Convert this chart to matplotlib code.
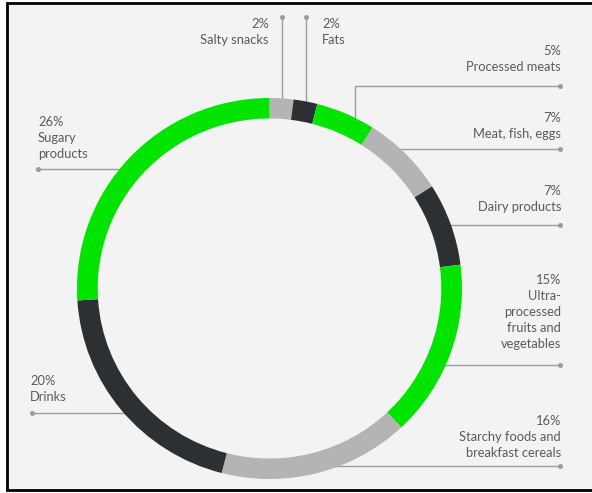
import numpy as np
import matplotlib
matplotlib.use("Agg")
import matplotlib.pyplot as plt
from matplotlib.patches import Rectangle

# data (clockwise from 12 o'clock)
categories = ["Salty snacks", "Fats", "Processed meats", "Meat, fish, eggs",
              "Dairy products", "Ultra-processed fruits and vegetables",
              "Starchy foods and breakfast cereals", "Drinks", "Sugary products"]
shares = [2, 2, 5, 7, 7, 15, 16, 20, 26]
label_lines = [["2%", "Salty snacks"], ["2%", "Fats"], ["5%", "Processed meats"],
               ["7%", "Meat, fish, eggs"], ["7%", "Dairy products"],
               ["15%", "Ultra-", "processed", "fruits and", "vegetables"],
               ["16%", "Starchy foods and", "breakfast cereals"],
               ["20%", "Drinks"], ["26%", "Sugary", "products"]]

GREEN, DARK, GREY = "#00e400", "#2d3033", "#b4b4b4"
colors = [GREY, DARK, GREEN, GREY, DARK, GREEN, GREY, DARK, GREEN]
TXT, LINE = "#5a5a5a", "#9c9c9c"

W, H = 592, 493
cx, cy = 269.5, 288.5
Rx, Ry = 192.5, 190.5
ring_w = 20.5

plt.rcParams['font.family'] = ['Lato', 'DejaVu Sans']
fig = plt.figure(figsize=(W / 100, H / 100), dpi=100)
fig.patch.set_facecolor("white")

# background axes in pixel coordinates for frame, leaders and text
bg = fig.add_axes([0, 0, 1, 1])
bg.set_xlim(0, W)
bg.set_ylim(H, 0)
bg.axis("off")
bg.add_patch(Rectangle((6.5, 2.5), 620, 487.5, facecolor="#f3f3f3",
                       edgecolor="black", linewidth=2.0, zorder=0))

# ring (slightly stretched like the source image)
ax = fig.add_axes([(cx - Rx) / W, (H - cy - Ry) / H, 2 * Rx / W, 2 * Ry / H])
ax.pie(shares, colors=colors, startangle=90, counterclock=False, radius=1,
       wedgeprops=dict(width=ring_w / Ry, edgecolor="none", linewidth=0))
ax.set_xlim(-1, 1)
ax.set_ylim(-1, 1)
ax.set_aspect("auto")
ax.axis("off")
ax.patch.set_alpha(0)

# mid angles of wedges (degrees, math convention)
cum = np.cumsum([0] + shares)
mid = 90 - 360 * (cum[:-1] + np.array(shares) / 2) / 100.0


def ring_point(ang, f=1.0):
    a = np.deg2rad(ang)
    return cx + f * Rx * np.cos(a), cy - f * Ry * np.sin(a)


def ring_x_at(y, side, f=0.95):
    dy = (cy - y) / (f * Ry)
    dx = np.sqrt(max(1 - dy ** 2, 0)) * f * Rx
    return cx + side * dx


def dot(x, y):
    bg.plot([x], [y], "o", color=LINE, markersize=2.6, zorder=2)


# vertical leaders (salty snacks, fats)
for i in (0, 1):
    x, y = ring_point(mid[i])
    bg.plot([x, x], [y + 4, 17], color=LINE, lw=1, zorder=1)
    dot(x, 17)

# processed meats: elbow
x, y = ring_point(mid[2] - 3)
bg.plot([x, x, 560], [y + 4, 86, 86], color=LINE, lw=1, zorder=1)
dot(560, 86)

# horizontal leaders right
for i, ly in ((3, 149), (4, 225), (5, 365), (6, 466)):
    bg.plot([ring_x_at(ly, 1), 560], [ly, ly], color=LINE, lw=1, zorder=1)
    dot(560, ly)

# horizontal leaders left
for i, ly, x0 in ((7, 413, 32), (8, 169, 38)):
    bg.plot([x0, ring_x_at(ly, -1)], [ly, ly], color=LINE, lw=1, zorder=1)
    dot(x0, ly)

# text blocks: (x, first baseline, ha)
text_pos = [(269, 28, "right"), (322, 28, "left"), (561, 55, "right"),
            (561, 122, "right"), (561, 195, "right"), (561, 284, "right"),
            (561, 425, "right"), (30, 385, "left"), (38, 126, "left")]
for lines, (tx, ty, ha) in zip(label_lines, text_pos):
    for k, s in enumerate(lines):
        bg.text(tx, ty + 16 * k, s, ha=ha, va="baseline", fontsize=9.3,
                color=TXT, zorder=3)

fig.savefig("out.png", dpi=100, facecolor="white")
